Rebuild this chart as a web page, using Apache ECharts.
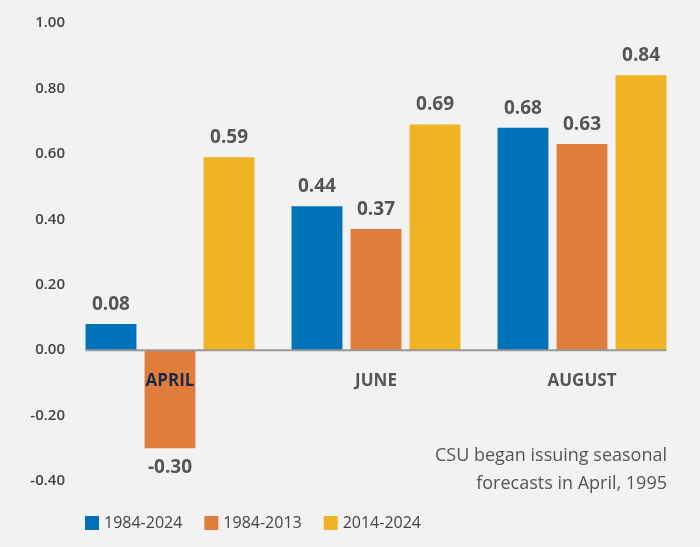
<!DOCTYPE html>
<html>
<head>
<meta charset="utf-8">
<script src="https://cdn.jsdelivr.net/npm/echarts@6/dist/echarts.min.js"></script>
<style>
html,body{margin:0;padding:0;background:#f2f2f2;}
#c{width:700px;height:547px;}
</style>
</head>
<body>
<div id="c"></div>
<script>
var categories = ['APRIL', 'JUNE', 'AUGUST'];
var seriesNames = ['1984-2024', '1984-2013', '2014-2024'];
var s1984_2024 = [0.08, 0.44, 0.68];
var s1984_2013 = [-0.30, 0.37, 0.63];
var s2014_2024 = [0.59, 0.69, 0.84];
var colors = ['#0072bc', '#e07d3c', '#f0b323'];
var note = 'CSU began issuing seasonal\nforecasts in April, 1995';

var FONT = '"Open Sans", sans-serif';
var Y_MIN = -0.4, Y_MAX = 1.0;
var GRID_TOP = 23, GRID_BOTTOM = 66, H = 547;
var CAT_GAP = 0.18;
var plotH = H - GRID_TOP - GRID_BOTTOM;
var zeroOffset = -Math.round(plotH * (0 - Y_MIN) / (Y_MAX - Y_MIN));

function mk(name, vals, color) {
  return {
    name: name,
    type: 'bar',
    barGap: '16%',
    barCategoryGap: (CAT_GAP * 100) + '%',
    itemStyle: { color: color },
    z: 3,
    data: vals.map(function (v) {
      return {
        value: v,
        label: { position: v < 0 ? 'bottom' : 'top' }
      };
    }),
    label: {
      show: true,
      distance: 10,
      color: '#555',
      fontFamily: FONT,
      fontWeight: 'bold',
      fontSize: 19,
      formatter: function (p) { return p.value.toFixed(2); }
    }
  };
}

var noteGraphic = {
  type: 'text',
  right: 33, top: 442,
  style: {
    text: note, textAlign: 'right', fill: '#555',
    fontFamily: FONT, fontSize: 18, lineHeight: 28
  }
};

var chart = echarts.init(document.getElementById('c'));
chart.setOption({
  backgroundColor: '#f2f2f2',
  animation: false,
  grid: { left: 67, right: 15, top: GRID_TOP, bottom: GRID_BOTTOM, containLabel: false },
  legend: {
    left: 80, bottom: 11,
    itemWidth: 14, itemHeight: 14, itemGap: 22,
    icon: 'rect',
    textStyle: { color: '#444', fontFamily: FONT, fontSize: 16 },
    data: seriesNames
  },
  xAxis: {
    type: 'category',
    data: categories,
    offset: zeroOffset,
    z: 20,
    axisTick: { show: false },
    axisLine: { show: false },
    axisLabel: {
      margin: 23,
      fontFamily: FONT, fontWeight: 'bold', fontSize: 17,
      color: function (v) { return v === 'APRIL' ? '#1b2a4a' : '#555'; }
    }
  },
  yAxis: {
    type: 'value',
    min: Y_MIN, max: Y_MAX, interval: 0.2,
    splitLine: { show: false },
    axisLine: { show: false },
    axisTick: { show: false },
    axisLabel: {
      margin: 2,
      color: '#444', fontFamily: FONT, fontWeight: 600, fontSize: 15,
      formatter: function (v) { return v.toFixed(2); }
    }
  },
  graphic: [noteGraphic],
  series: [
    mk(seriesNames[0], s1984_2024, colors[0]),
    mk(seriesNames[1], s1984_2013, colors[1]),
    mk(seriesNames[2], s2014_2024, colors[2])
  ]
});

// zero baseline spanning only the bar groups, positioned through the axes' scales
var x0 = chart.convertToPixel({ xAxisIndex: 0 }, 0);
var x1 = chart.convertToPixel({ xAxisIndex: 0 }, 1);
var xN = chart.convertToPixel({ xAxisIndex: 0 }, categories.length - 1);
var catW = x1 - x0;
var half = catW * (1 - CAT_GAP) / 2;
var yZero = chart.convertToPixel({ yAxisIndex: 0 }, 0);
chart.setOption({
  graphic: [noteGraphic, {
    type: 'line',
    z: 10,
    shape: { x1: x0 - half, y1: yZero, x2: xN + half, y2: yZero },
    style: { stroke: '#999', lineWidth: 2 }
  }]
});
</script>
</body>
</html>
